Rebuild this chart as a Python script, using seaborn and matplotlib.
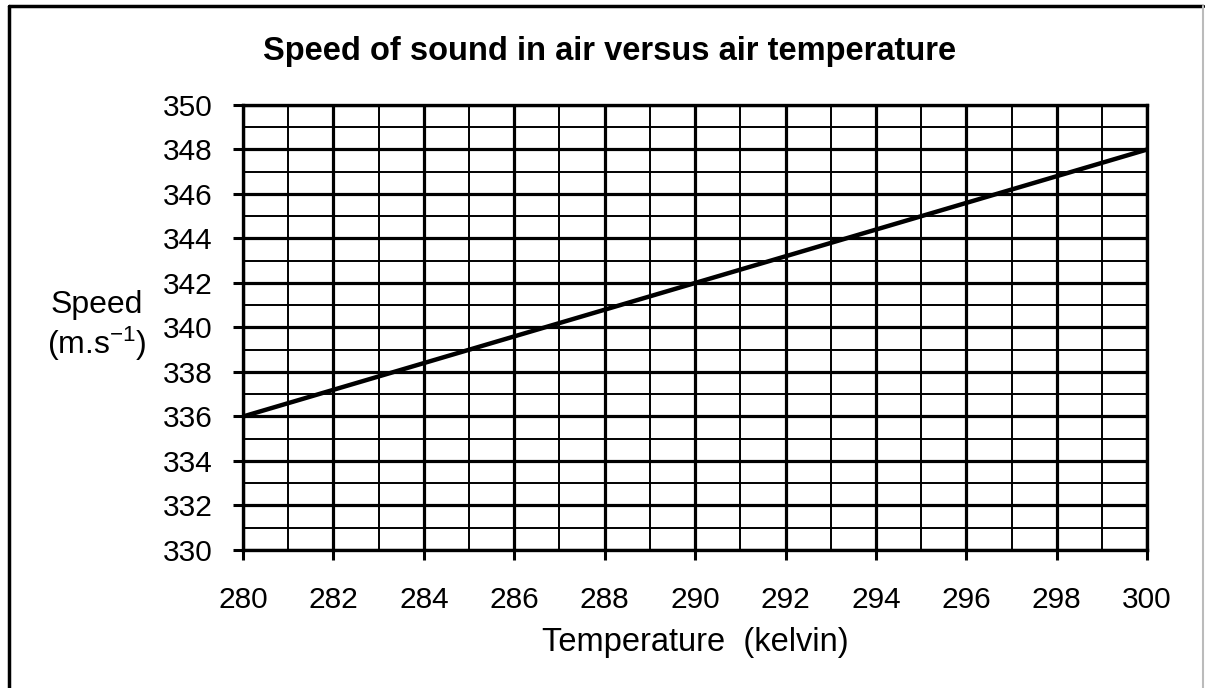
import matplotlib
matplotlib.use("Agg")
import matplotlib.pyplot as plt
import seaborn as sns
import pandas as pd
from matplotlib.lines import Line2D
from matplotlib.ticker import MultipleLocator

# values
temperature_k = [280, 282, 284, 286, 288, 290, 292, 294, 296, 298, 300]
speed_ms = [336.0, 337.2, 338.4, 339.6, 340.8, 342.0, 343.2, 344.4, 345.6, 346.8, 348.0]
x_ticks = [280, 282, 284, 286, 288, 290, 292, 294, 296, 298, 300]
y_ticks = [330, 332, 334, 336, 338, 340, 342, 344, 346, 348, 350]

df = pd.DataFrame({"Temperature": temperature_k, "Speed": speed_ms})

sns.set_style("white")
plt.rcParams['font.family'] = ['Liberation Sans', 'DejaVu Sans']
plt.rcParams['text.color'] = 'black'
plt.rcParams['axes.labelcolor'] = 'black'
plt.rcParams['xtick.color'] = 'black'
plt.rcParams['ytick.color'] = 'black'
plt.rcParams['mathtext.fontset'] = 'custom'
plt.rcParams['mathtext.rm'] = 'Liberation Sans'
plt.rcParams['mathtext.it'] = 'Liberation Sans'

fig = plt.figure(figsize=(12.05, 6.88), dpi=100)
ax = fig.add_axes([0.2017, 0.2006, 0.7503, 0.6468])

sns.lineplot(data=df, x="Temperature", y="Speed", ax=ax, color="black", linewidth=3.2)

ax.set_xlim(280, 300)
ax.set_ylim(330, 350)
ax.set_xticks(x_ticks)
ax.set_yticks(y_ticks)
ax.xaxis.set_minor_locator(MultipleLocator(1))
ax.yaxis.set_minor_locator(MultipleLocator(1))

ax.grid(which="major", color="black", linewidth=2.3)
ax.grid(which="minor", color="black", linewidth=1.4)
ax.set_axisbelow(True)
for s in ax.spines.values():
    s.set_color("black")
    s.set_linewidth(2.4)

ax.tick_params(which="major", direction="out", length=7, width=2.2, color="black",
               labelsize=21.5, left=True, bottom=True)
ax.tick_params(axis="x", which="major", pad=19)
ax.tick_params(axis="y", which="major", pad=15)
ax.tick_params(which="minor", length=0)

fig.text(0.506, 0.925, "Speed of sound in air versus air temperature", fontsize=23.5,
         fontweight="bold", ha="center", va="center")
ax.set_xlabel("Temperature  (kelvin)", fontsize=23.5, labelpad=9)
ax.set_ylabel("")
fig.text(0.08, 0.525, "Speed\n(m.s$^{-1}$)", fontsize=23, ha="center", va="center",
         linespacing=1.15)

# figure border like the scanned page
fig.add_artist(Line2D([0.0075, 0.0075], [0.0, 0.991], transform=fig.transFigure,
                      color="black", linewidth=2.5))
fig.add_artist(Line2D([0.0075, 0.998], [0.991, 0.991], transform=fig.transFigure,
                      color="black", linewidth=2.5))
fig.add_artist(Line2D([0.998, 0.998], [0.0, 0.991], transform=fig.transFigure,
                      color="#bbbbbb", linewidth=1.5))

fig.savefig("out.png", dpi=100)
